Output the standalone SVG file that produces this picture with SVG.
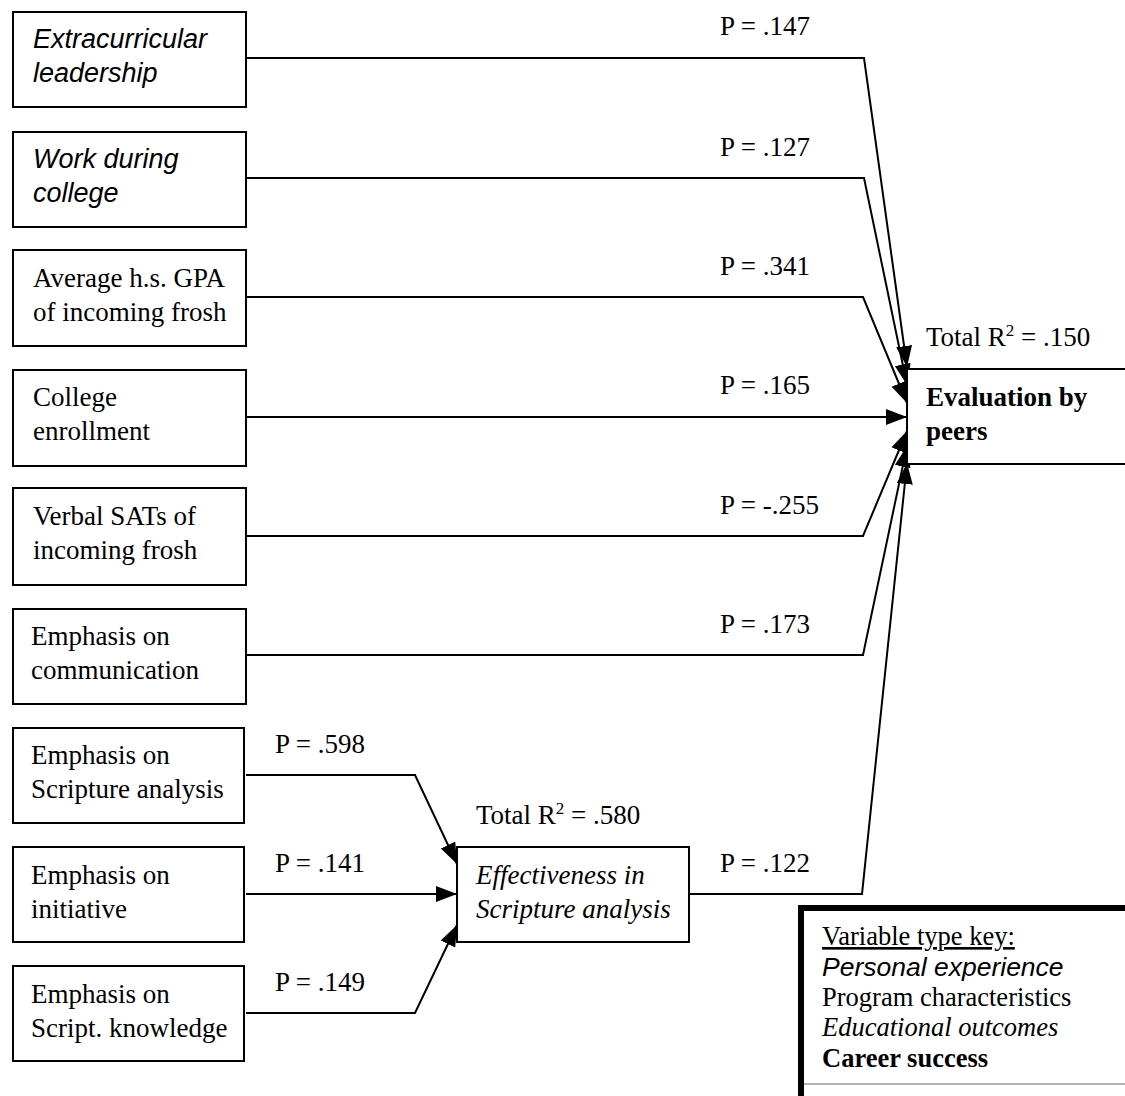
<svg xmlns="http://www.w3.org/2000/svg" width="1125" height="1096" viewBox="0 0 1125 1096">
<style>
.box{fill:#fff;stroke:#000;stroke-width:2}
.t{font-family:"Liberation Serif","Times New Roman",serif;font-size:27px;fill:#000}
.a{font-family:"Liberation Sans",Arial,sans-serif;font-size:27px;font-style:italic;fill:#000}
.ti{font-family:"Liberation Serif","Times New Roman",serif;font-size:27px;font-style:italic;fill:#000}
.tb{font-family:"Liberation Serif","Times New Roman",serif;font-size:27px;font-weight:bold;fill:#000}
.k{font-size:26.5px}
.ka{font-family:"Liberation Sans",Arial,sans-serif;font-size:26.5px;font-style:italic;fill:#000}
.c{fill:none;stroke:#000;stroke-width:2;marker-end:url(#ah)}
</style>
<defs>
<marker id="ah" markerUnits="userSpaceOnUse" markerWidth="24" markerHeight="18" refX="21" refY="8" orient="auto">
<path d="M0,0 L21,8 L0,16 z" fill="#000"/>
</marker>
</defs>
<rect width="1125" height="1096" fill="#fff"/>

<g id="connectors">
<polyline class="c" points="246,58 864,58 907,367"/>
<polyline class="c" points="246,178 864,178 907,385"/>
<polyline class="c" points="246,297 863,297 907,403"/>
<polyline class="c" points="246,417 907,417"/>
<polyline class="c" points="246,536 863,536 907,431"/>
<polyline class="c" points="246,655 863,655 907,446"/>
<polyline class="c" points="689,894 862,894 907,463"/>
<polyline class="c" points="246,775 415,775 457,864"/>
<polyline class="c" points="246,894 457,894"/>
<polyline class="c" points="246,1013 415,1013 457,925"/>
</g>

<g id="labels">
<text class="t" x="720" y="35">P = .147</text>
<text class="t" x="720" y="156">P = .127</text>
<text class="t" x="720" y="275">P = .341</text>
<text class="t" x="720" y="394">P = .165</text>
<text class="t" x="720" y="514">P = -.255</text>
<text class="t" x="720" y="633">P = .173</text>
<text class="t" x="720" y="872">P = .122</text>
<text class="t" x="275" y="753">P = .598</text>
<text class="t" x="275" y="872">P = .141</text>
<text class="t" x="275" y="991">P = .149</text>
<text class="t" x="926" y="346">Total R<tspan font-size="17" dy="-10">2</tspan><tspan dy="10"> = .150</tspan></text>
<text class="t" x="476" y="824">Total R<tspan font-size="17" dy="-10">2</tspan><tspan dy="10"> = .580</tspan></text>
</g>

<g id="n1"><rect class="box" x="13" y="12" width="233" height="95"/><text class="a" x="33" y="48">Extracurricular</text><text class="a" x="33" y="82">leadership</text></g>
<g id="n2"><rect class="box" x="13" y="132" width="233" height="95"/><text class="a" x="33" y="168">Work during</text><text class="a" x="33" y="202">college</text></g>
<g id="n3"><rect class="box" x="13" y="250" width="233" height="96"/><text class="t" x="33" y="287">Average h.s. GPA</text><text class="t" x="33" y="321">of incoming frosh</text></g>
<g id="n4"><rect class="box" x="13" y="370" width="233" height="96"/><text class="t" x="33" y="406">College</text><text class="t" x="33" y="440">enrollment</text></g>
<g id="n5"><rect class="box" x="13" y="488" width="233" height="97"/><text class="t" x="33" y="525">Verbal SATs of</text><text class="t" x="33" y="559">incoming frosh</text></g>
<g id="n6"><rect class="box" x="13" y="609" width="233" height="95"/><text class="t" x="31" y="645">Emphasis on</text><text class="t" x="31" y="679">communication</text></g>
<g id="n7"><rect class="box" x="13" y="728" width="231" height="95"/><text class="t" x="31" y="764">Emphasis on</text><text class="t" x="31" y="798">Scripture analysis</text></g>
<g id="n8"><rect class="box" x="13" y="847" width="231" height="95"/><text class="t" x="31" y="884">Emphasis on</text><text class="t" x="31" y="918">initiative</text></g>
<g id="n9"><rect class="box" x="13" y="966" width="231" height="95"/><text class="t" x="31" y="1003">Emphasis on</text><text class="t" x="31" y="1037">Script. knowledge</text></g>

<g id="effectiveness"><rect class="box" x="457" y="847" width="232" height="95"/><text class="ti" x="476" y="884">Effectiveness in</text><text class="ti" x="476" y="918">Scripture analysis</text></g>

<g id="evaluation"><rect class="box" x="907" y="369" width="230" height="95"/><text class="tb" x="926" y="406">Evaluation by</text><text class="tb" x="926" y="440">peers</text></g>

<g id="key">
<line x1="803" y1="1084" x2="1125" y2="1084" stroke="#999" stroke-width="1.5"/>
<line x1="801" y1="908" x2="1125" y2="908" stroke="#000" stroke-width="6"/>
<line x1="801" y1="905" x2="801" y2="1096" stroke="#000" stroke-width="6"/>
<text class="t k" x="822" y="945" text-decoration="underline">Variable type key:</text>
<text class="ka" x="822" y="976">Personal experience</text>
<text class="t k" x="822" y="1006">Program characteristics</text>
<text class="ti k" x="822" y="1036">Educational outcomes</text>
<text class="tb k" x="822" y="1067">Career success</text>
</g>
</svg>
